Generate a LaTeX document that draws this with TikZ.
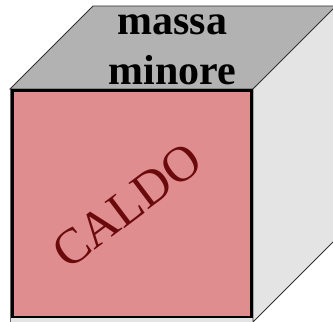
\documentclass[tikz,border=0pt]{standalone}
\usepackage{fontspec}
\setmainfont{Liberation Serif}
\definecolor{pinkface}{HTML}{E08D8F}
\definecolor{caldored}{HTML}{6A0A0C}
\definecolor{topgray}{HTML}{B2B2B2}
\definecolor{sidegray}{HTML}{E4E4E4}
\definecolor{edgegray}{HTML}{333333}
\tikzset{
  face/.style={draw=edgegray, line width=0.9pt, line join=miter},
  bigtext/.style={font=\fontsize{42}{50}\selectfont\bfseries, inner sep=0pt, anchor=base},
}
\begin{document}
\begin{tikzpicture}[x=1pt,y=1pt]
\useasboundingbox (0,0) rectangle (333,322);
\clip (0,0) rectangle (333,322);
% front face (background)
\fill[sidegray] (10,-10) rectangle (253,233);
\draw[face, draw=gray!80!black] (10,-10) -- (10,233);
% top face
\filldraw[face, fill=topgray] (10,233) -- (93,316) -- (340,316) -- (253,233) -- cycle;
% right face
\filldraw[face, fill=sidegray] (253,233) -- (336,316) -- (336,83) -- (253,0) -- cycle;
% pink front panel
\filldraw[fill=pinkface, draw=black, line width=2.6pt] (12.8,5) rectangle (251.5,231.5);
% texts
\node[bigtext] (m1) at (172.5,287) {massa};
\node[bigtext] (m2) at (172.5,237) {minore};
\node[rotate=37, text=caldored, font=\fontsize{50}{50}\selectfont, inner sep=0pt] (caldo) at (127,116) {CALDO};
\end{tikzpicture}
\end{document}
